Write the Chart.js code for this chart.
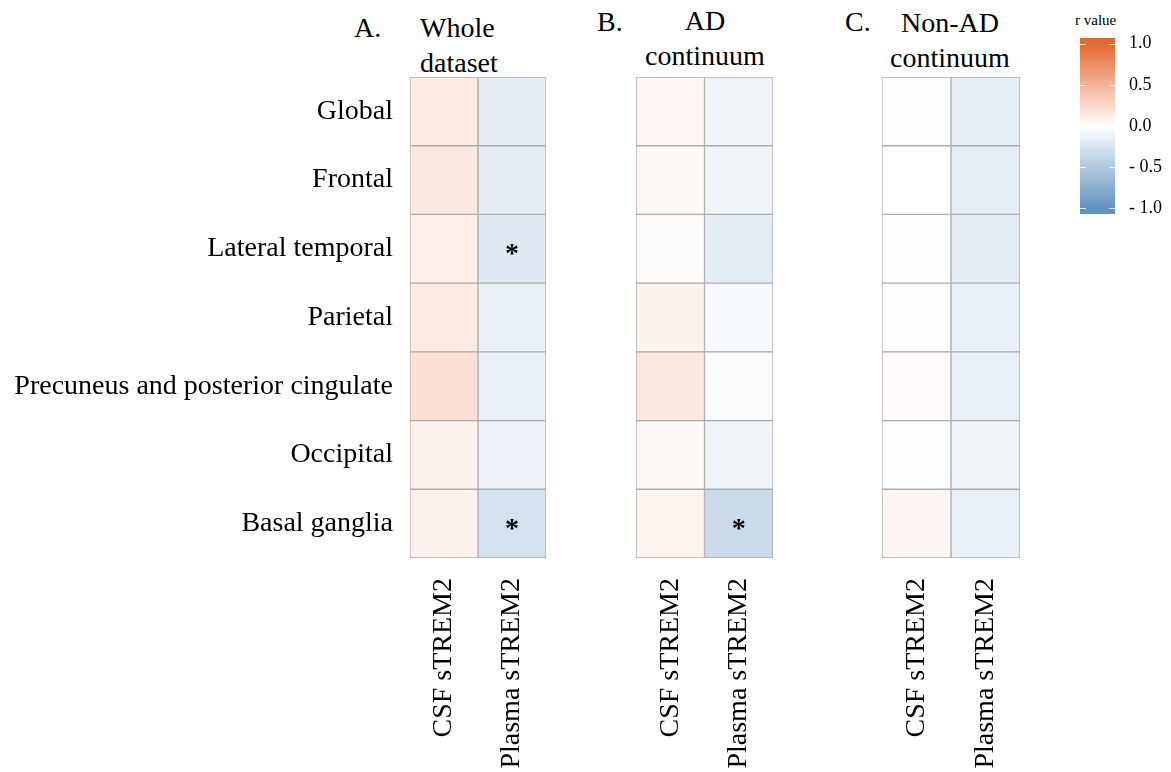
<!DOCTYPE html>
<html>
<head>
<meta charset="utf-8">
<script src="https://cdn.jsdelivr.net/npm/chart.js@4.4.1/dist/chart.umd.min.js"></script>
<style>
  body { margin: 0; background: #fff; width: 1171px; height: 772px; position: relative; overflow: hidden;
         font-family: "Liberation Serif", "Times New Roman", serif; color: #000; }
  canvas { position: absolute; left: 0; top: 0; }
  .t { position: absolute; font-size: 28px; line-height: 35px; white-space: nowrap; }
  .c { text-align: center; }
</style>
</head>
<body>
<div class="t" style="left:354px;top:10px">A.</div>
<div class="t" style="left:420px;top:10px">Whole<br>dataset</div>
<div class="t" style="left:597px;top:4px">B.</div>
<div class="t c" style="left:625px;top:3px;width:160px">AD<br>continuum</div>
<div class="t" style="left:845px;top:4px">C.</div>
<div class="t c" style="left:870px;top:5px;width:160px">Non-AD<br>continuum</div>
<div class="t" style="left:1075px;top:10px;font-size:15px;line-height:20px">r value</div>

<canvas id="panelA" width="1171" height="772"></canvas>
<canvas id="panelB" width="1171" height="772"></canvas>
<canvas id="panelC" width="1171" height="772"></canvas>
<canvas id="legend" width="1171" height="772"></canvas>

<script>
const regions = ["Global", "Frontal", "Lateral temporal", "Parietal",
                 "Precuneus and posterior cingulate", "Occipital", "Basal ganglia"];
const markers = ["CSF sTREM2", "Plasma sTREM2"];

// r values
const wholeCsf    = [0.14, 0.15, 0.11, 0.14, 0.20, 0.08, 0.08];
const wholePlasma = [-0.17, -0.17, -0.20, -0.14, -0.15, -0.13, -0.27];
const adCsf       = [0.05, 0.04, 0.02, 0.08, 0.15, 0.04, 0.07];
const adPlasma    = [-0.10, -0.10, -0.17, -0.05, -0.04, -0.11, -0.33];
const nonAdCsf    = [-0.02, 0.00, -0.01, -0.02, 0.03, -0.02, 0.06];
const nonAdPlasma = [-0.16, -0.16, -0.17, -0.14, -0.15, -0.10, -0.15];

// significance stars (p < 0.05)
const wholeCsfSig    = [false, false, false, false, false, false, false];
const wholePlasmaSig = [false, false, true, false, false, false, true];
const adCsfSig       = [false, false, false, false, false, false, false];
const adPlasmaSig    = [false, false, false, false, false, false, true];
const nonAdCsfSig    = [false, false, false, false, false, false, false];
const nonAdPlasmaSig = [false, false, false, false, false, false, false];

const legendTicks = [-1, -0.5, 0, 0.5, 1];

const posColor = [228, 104, 46];
const negColor = [99, 147, 191];
const gridColor = "#adadad";
const serif = '"Liberation Serif", "Times New Roman", serif';

function rColor(r) {
  const end = r >= 0 ? posColor : negColor;
  const t = Math.min(1, Math.abs(r));
  const c = end.map(v => Math.round(255 + (v - 255) * t));
  return `rgb(${c[0]}, ${c[1]}, ${c[2]})`;
}

const starPlugin = {
  id: "stars",
  afterDatasetsDraw(chart, args, opts) {
    const { ctx, scales } = chart;
    ctx.save();
    ctx.fillStyle = "#000";
    ctx.font = "bold 28px " + serif;
    ctx.textAlign = "center";
    ctx.textBaseline = "middle";
    opts.sig.forEach((col, di) => {
      col.forEach((s, i) => {
        if (!s) return;
        const x = scales.x.getPixelForValue(di + 0.5);
        const y = scales.y.getPixelForValue(i);
        ctx.fillText("*", x, y + 6);
      });
    });
    ctx.restore();
  }
};

function makePanel(id, csf, plasma, sig, left, right, showRows) {
  const cols = [csf, plasma];
  new Chart(document.getElementById(id), {
    type: "bar",
    data: {
      labels: regions,
      datasets: cols.map((vals, k) => ({
        label: markers[k],
        data: vals.map(() => 1),
        backgroundColor: vals.map(rColor),
        borderColor: gridColor,
        borderWidth: 1,
        borderSkipped: false,
        categoryPercentage: 1,
        barPercentage: 1
      }))
    },
    options: {
      indexAxis: "y",
      responsive: false,
      animation: false,
      layout: { padding: { top: 77, left: left, right: right, bottom: 0 } },
      plugins: {
        legend: { display: false },
        tooltip: { enabled: false },
        stars: { sig: sig }
      },
      scales: {
        x: {
          type: "linear", stacked: true, min: 0, max: 2,
          grid: { display: false, drawTicks: false },
          border: { display: false },
          afterFit: s => { s.height = 214; },
          ticks: {
            stepSize: 0.5, autoSkip: false,
            minRotation: 90, maxRotation: 90, padding: 20,
            color: "#000", font: { family: serif, size: 28 },
            callback: v => v === 0.5 ? markers[0] : v === 1.5 ? markers[1] : ""
          }
        },
        y: {
          type: "category", stacked: true, offset: true,
          display: showRows,
          grid: { display: false, drawTicks: false },
          border: { display: false },
          afterFit: s => { if (showRows) s.width = 410; },
          ticks: { padding: 17, color: "#000", font: { family: serif, size: 28 } }
        }
      }
    },
    plugins: [starPlugin]
  });
}

makePanel("panelA", wholeCsf, wholePlasma, [wholeCsfSig, wholePlasmaSig], 0, 625, true);
makePanel("panelB", adCsf, adPlasma, [adCsfSig, adPlasmaSig], 636, 398, false);
makePanel("panelC", nonAdCsf, nonAdPlasma, [nonAdCsfSig, nonAdPlasmaSig], 882, 151, false);

// colour bar legend
const barTicksPlugin = {
  id: "barTicks",
  afterDatasetsDraw(chart) {
    const { ctx, chartArea, scales } = chart;
    ctx.save();
    ctx.strokeStyle = "rgba(255,255,255,0.8)";
    ctx.lineWidth = 1;
    legendTicks.forEach(v => {
      const y = Math.round(scales.y.getPixelForValue(v)) + 0.5;
      ctx.beginPath();
      ctx.moveTo(chartArea.left, y); ctx.lineTo(chartArea.left + 6, y);
      ctx.moveTo(chartArea.right - 6, y); ctx.lineTo(chartArea.right, y);
      ctx.stroke();
    });
    ctx.restore();
  }
};

new Chart(document.getElementById("legend"), {
  type: "bar",
  data: {
    labels: ["r"],
    datasets: [{
      data: [[-1.07, 1.07]],
      categoryPercentage: 1, barPercentage: 1,
      backgroundColor: (c) => {
        const chart = c.chart;
        if (!chart.chartArea) return rColor(0);
        const y = chart.scales.y;
        const g = chart.ctx.createLinearGradient(0, y.getPixelForValue(1.07), 0, y.getPixelForValue(-1.07));
        const vals = [1.07, 1, 0.5, 0, -0.5, -1, -1.07];
        vals.forEach(v => g.addColorStop((1.07 - v) / 2.14, rColor(v)));
        return g;
      }
    }]
  },
  options: {
    responsive: false,
    animation: false,
    layout: { padding: { top: 38, left: 1080, right: 4, bottom: 772 - 214 } },
    plugins: { legend: { display: false }, tooltip: { enabled: false } },
    scales: {
      x: { display: false },
      y: {
        position: "right", min: -1.07, max: 1.07,
        grid: { display: false, drawTicks: false },
        border: { display: false },
        afterFit: s => { s.width = 52; },
        afterBuildTicks: s => { s.ticks = legendTicks.map(v => ({ value: v })); },
        ticks: {
          padding: 14, color: "#000", font: { family: serif, size: 18 },
          callback: v => v < 0 ? "- " + Math.abs(v).toFixed(1) : v.toFixed(1)
        }
      }
    }
  },
  plugins: [barTicksPlugin]
});
</script>
</body>
</html>
